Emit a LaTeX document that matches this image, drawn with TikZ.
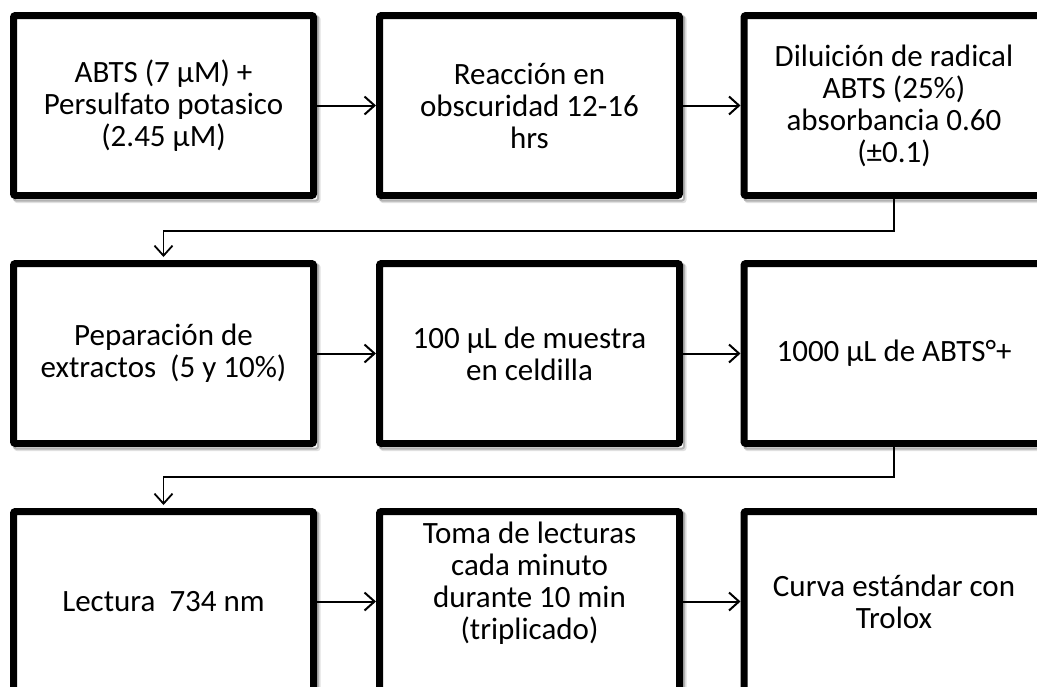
\documentclass[tikz,border=0pt]{standalone}
\usepackage{fontspec}
\setmainfont{Carlito}
\usetikzlibrary{arrows.meta,backgrounds}
\begin{document}
\begin{tikzpicture}[x=1pt,y=-1pt,
  box/.style={draw=black, fill=white, line width=7pt, rounded corners=2pt,
    minimum width=300pt, minimum height=180pt, inner sep=0pt, outer sep=3.5pt,
    align=center, font=\fontsize{31}{32}\selectfont},
  arr/.style={line width=2pt, -{Straight Barb[length=10pt,width=18pt]}},
  conn/.style={line width=1.8pt, -{Straight Barb[length=10pt,width=18pt]}, shorten >=3pt},
  shadowa/.style={draw=black!30, line width=2pt, rounded corners=2pt},
  shadowb/.style={draw=black!12, line width=2pt, rounded corners=2pt}]
\useasboundingbox (0,0) rectangle (1037,686);
\clip (0,0) rectangle (1037,686);
\node[box] (a) at (163.5,105.5) {ABTS (7 µM) +\\Persulfato potasico\\(2.45 µM)};
\node[box] (b) at (529.5,105.5) {Reacción en\\obscuridad 12-16\\hrs};
\node[box] (c) at (894,105.5) {Diluición de radical\\ABTS (25\%)\\absorbancia 0.60\\(±0.1)};
\node[box] (d) at (163.5,353.5) {Peparación de\\extractos~~(5 y 10\%)};
\node[box] (e) at (529.5,353.5) {100 µL de muestra\\en celdilla};
\node[box] (f) at (894,353.5) {1000 µL de ABTS°+};
\node[box] (g) at (163.5,601.5) {Lectura~~734 nm};
\node[box] (h) at (529.5,601.5) {Toma de lecturas\\cada minuto\\durante 10 min\\(triplicado)\\[10pt]\mbox{}};
\node[box] (i) at (894,601.5) {Curva estándar con\\Trolox};
\begin{scope}[on background layer]
\foreach \n in {a,b,c,d,e,f,g,h,i}{
  \draw[shadowb] ([shift={(5,5)}]\n.north west) rectangle ([shift={(2.5,3)}]\n.south east);
  \draw[shadowa] ([shift={(4,4)}]\n.north west) rectangle ([shift={(1,1.5)}]\n.south east);
}
\end{scope}
\draw[arr] (a.east) -- (b.west);
\draw[arr] (b.east) -- (c.west);
\draw[arr] (d.east) -- (e.west);
\draw[arr] (e.east) -- (f.west);
\draw[arr] (g.east) -- (h.west);
\draw[arr] (h.east) -- (i.west);
\draw[conn] (c.south) -- ++(0,32) -| (d.north);
\draw[conn] (f.south) -- ++(0,30) -| (g.north);
\end{tikzpicture}
\end{document}
